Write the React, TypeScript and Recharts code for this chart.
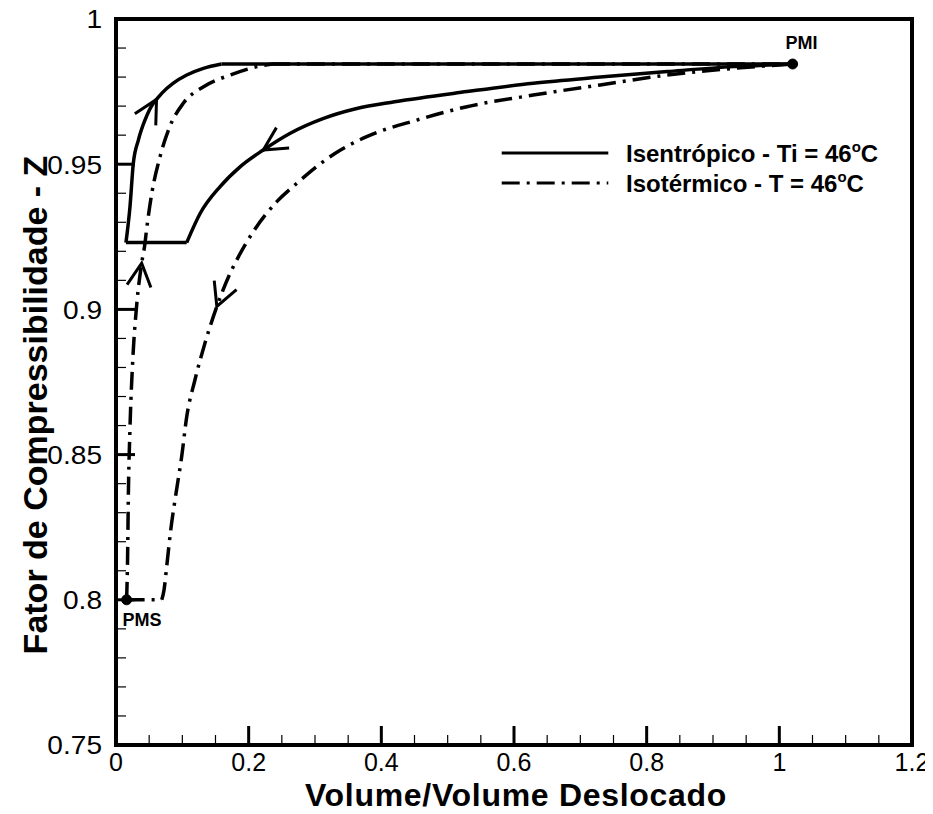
import React from 'react';
import { LineChart, Line, XAxis, YAxis, ReferenceArea, ReferenceDot, Legend } from 'recharts';

// ---- Data (x = Volume/Volume Deslocado, z = Fator de Compressibilidade) ----
// Isentrópico - Ti = 46°C
const isenLeftX = [0.015, 0.0211, 0.0261, 0.0337, 0.0437, 0.0563, 0.0611, 0.0689, 0.0864, 0.1066, 0.1317, 0.159];
const isenLeftZ = [0.923, 0.9354, 0.9503, 0.9583, 0.9652, 0.971, 0.9723, 0.9744, 0.9779, 0.9807, 0.983, 0.9845];
const isenTopX = [0.159, 1.02];
const isenTopZ = [0.9845, 0.9845];
const isenBottomX = [0.015, 0.1066];
const isenBottomZ = [0.923, 0.923];
const isenRightX = [0.1066, 0.127, 0.157, 0.187, 0.222, 0.262, 0.313, 0.363, 0.42, 0.529, 0.629, 0.73, 0.831, 0.931, 1.02];
const isenRightZ = [0.923, 0.9331, 0.9423, 0.9491, 0.9549, 0.9606, 0.9658, 0.9692, 0.9715, 0.975, 0.9779, 0.98, 0.9819, 0.9836, 0.9845];

// Isotérmico - T = 46°C
const isoLeftX = [0.016, 0.0175, 0.0186, 0.021, 0.025, 0.031, 0.0387, 0.0437, 0.046, 0.054, 0.0664, 0.081, 0.1015, 0.132, 0.172, 0.217, 0.235];
const isoLeftZ = [0.8, 0.815, 0.8355, 0.8585, 0.8814, 0.901, 0.9159, 0.9228, 0.9273, 0.94, 0.9526, 0.9629, 0.971, 0.9767, 0.9807, 0.9838, 0.9845];
const isoTopX = [0.235, 1.02];
const isoTopZ = [0.9845, 0.9845];
const isoBottomX = [0.016, 0.069];
const isoBottomZ = [0.8, 0.8];
const isoRightX = [0.069, 0.0724, 0.0764, 0.0825, 0.0905, 0.099, 0.1066, 0.119, 0.134, 0.152, 0.172, 0.1845, 0.207, 0.2424, 0.2725, 0.33, 0.378, 0.4535, 0.529, 0.629, 0.73, 0.831, 0.931, 1.02];
const isoRightZ = [0.8, 0.8034, 0.8114, 0.824, 0.8367, 0.8493, 0.863, 0.8757, 0.8883, 0.901, 0.9124, 0.9181, 0.9268, 0.9371, 0.9434, 0.9537, 0.9595, 0.9652, 0.9698, 0.9738, 0.9773, 0.9807, 0.983, 0.9845];

// Direction arrows: [branch, fromIndex, toIndex]
const arrowDefs: [string, number, number][] = [
  ['isenLeft', 4, 6],
  ['isenRight', 5, 4],
  ['isoLeft', 5, 6],
  ['isoRight', 10, 9],
];

// Marked points
const pointNames = ['PMI', 'PMS'];
const pointX = [1.02, 0.016];
const pointZ = [0.9845, 0.8];

// Axes
const xMajorTicks = [0, 0.2, 0.4, 0.6, 0.8, 1, 1.2];
const xTickLabels = ['0', '0.2', '0.4', '0.6', '0.8', '1', '1.2'];
const yMajorTicks = [0.75, 0.8, 0.85, 0.9, 0.95, 1];
const yTickLabels = ['0.75', '0.8', '0.85', '0.9', '0.95', '1'];
const xMinorStep = 0.05;
const yMinorStep = 0.01;

const seriesNames = ['Isentrópico - Ti = 46', 'Isotérmico - T = 46'];
const xTitle = 'Volume/Volume Deslocado';
const yTitle = 'Fator de Compressibilidade - Z';

const toPts = (xs: number[], zs: number[]) => xs.map((x, i) => ({ x, z: zs[i] }));

const branches: Record<string, { x: number; z: number }[]> = {
  isenLeft: toPts(isenLeftX, isenLeftZ),
  isenTop: toPts(isenTopX, isenTopZ),
  isenBottom: toPts(isenBottomX, isenBottomZ),
  isenRight: toPts(isenRightX, isenRightZ),
  isoLeft: toPts(isoLeftX, isoLeftZ),
  isoTop: toPts(isoTopX, isoTopZ),
  isoBottom: toPts(isoBottomX, isoBottomZ),
  isoRight: toPts(isoRightX, isoRightZ),
};

const buildTicks = (lo: number, hi: number, step: number) => {
  const out: number[] = [];
  const n = Math.round((hi - lo) / step);
  for (let i = 0; i <= n; i++) out.push(Math.round((lo + i * step) * 10000) / 10000);
  return out;
};
const xAllTicks = buildTicks(0, 1.2, xMinorStep);
const yAllTicks = buildTicks(0.75, 1, yMinorStep);

const FONT = 'Liberation Sans, Arial, Helvetica, sans-serif';
const DASH = '18 7 3 7';
const LW = 3.5;

const findMajor = (v: number, majors: number[]) => majors.findIndex((m) => Math.abs(m - v) < 1e-6);

const XTick = (props: any) => {
  const { x, y, payload } = props;
  const idx = findMajor(payload.value, xMajorTicks);
  const major = idx >= 0;
  return (
    <g>
      <line x1={x} x2={x} y1={y} y2={y - (major ? 19 : 10)} stroke="#000" strokeWidth={major ? 3 : 1.2} />
      {major && (
        <text x={x} y={y + 26} textAnchor="middle" fontSize={25} fontFamily={FONT} fill="#000">
          {xTickLabels[idx]}
        </text>
      )}
    </g>
  );
};

const YTick = (props: any) => {
  const { x, y, payload } = props;
  const idx = findMajor(payload.value, yMajorTicks);
  const major = idx >= 0;
  return (
    <g>
      <line x1={x} x2={x + (major ? 19 : 10)} y1={y} y2={y} stroke="#000" strokeWidth={major ? 3 : 1.2} />
      {major && (
        <text
          transform={`translate(${x - 14},${y}) scale(1.08,1)`}
          dy="0.36em"
          textAnchor="end"
          fontSize={26}
          fontFamily={FONT}
          fill="#000"
        >
          {yTickLabels[idx]}
        </text>
      )}
    </g>
  );
};

const XTitle = () => (
  <text
    x={516}
    y={806}
    textAnchor="middle"
    fontSize={32}
    letterSpacing={0.7}
    fontWeight="bold"
    fontFamily={FONT}
    fill="#000"
  >
    {xTitle}
  </text>
);

const YTitle = () => (
  <text
    transform="translate(35,405) rotate(-90)"
    textAnchor="middle"
    dy="0.36em"
    fontSize={34}
    fontWeight="bold"
    fontFamily={FONT}
    fill="#000"
  >
    {yTitle}
  </text>
);

const LegendBox = () => (
  <svg width={420} height={70} style={{ overflow: 'visible' }}>
    <line x1={13.7} x2={120.3} y1={17} y2={17} stroke="#000" strokeWidth={3} />
    <text x={138} y={25.5} fontSize={24} fontWeight="bold" fontFamily={FONT} fill="#000">
      {seriesNames[0]}
      <tspan dy={-10} fontSize={15}>o</tspan>
      <tspan dy={10}>C</tspan>
    </text>
    <line x1={13.7} x2={120.3} y1={47} y2={47} stroke="#000" strokeWidth={3} strokeDasharray={DASH} />
    <text x={138} y={55.5} fontSize={24} fontWeight="bold" fontFamily={FONT} fill="#000">
      {seriesNames[1]}
      <tspan dy={-10} fontSize={15}>o</tspan>
      <tspan dy={10}>C</tspan>
    </text>
  </svg>
);

const pointLabel = (name: string) => (p: any) => {
  const vb = p.viewBox || {};
  const cx = (vb.x || 0) + (vb.width || 0) / 2;
  const cy = (vb.y || 0) + (vb.height || 0) / 2;
  const isTop = name === 'PMI';
  return (
    <text
      x={cx - (isTop ? 7 : 4)}
      y={cy + (isTop ? -15 : 26)}
      fontSize={18}
      fontWeight="bold"
      fontFamily={FONT}
      fill="#000"
    >
      {name}
    </text>
  );
};

const lineProps = {
  dataKey: 'z',
  stroke: '#000',
  strokeWidth: LW,
  dot: false,
  activeDot: false,
  isAnimationActive: false,
  legendType: 'none' as const,
};

export default function App() {
  const solidKeys = ['isenTop', 'isenLeft', 'isenBottom', 'isenRight'];
  const dashKeys = ['isoTop', 'isoLeft', 'isoBottom', 'isoRight'];
  return (
    <div style={{ position: 'relative', width: 933, height: 814, margin: '-8px 0 0 -8px' }}>
      <svg width={0} height={0} style={{ position: 'absolute' }}>
        <defs>
          <marker
            id="arrowHead"
            markerUnits="userSpaceOnUse"
            markerWidth={40}
            markerHeight={40}
            viewBox="-30 -20 40 40"
            refX={0}
            refY={0}
            orient="auto"
            style={{ overflow: 'visible' }}
          >
            <path d="M-23,-12 L0,0 L-23,12" fill="none" stroke="#000" strokeWidth={3} strokeLinejoin="miter" />
          </marker>
        </defs>
      </svg>
      <LineChart width={933} height={814} margin={{ top: 19, right: 21, bottom: 8, left: 8 }}>
        <XAxis
          type="number"
          dataKey="x"
          domain={[0, 1.2]}
          ticks={xAllTicks}
          interval={0}
          height={61}
          tickSize={0}
          tickMargin={0}
          axisLine={false}
          tickLine={false}
          tick={(p: any) => <XTick {...p} />}
          allowDataOverflow
          label={{ content: () => <XTitle /> }}
        />
        <YAxis
          type="number"
          dataKey="z"
          domain={[0.75, 1]}
          ticks={yAllTicks}
          interval={0}
          width={108}
          tickSize={0}
          tickMargin={0}
          axisLine={false}
          tickLine={false}
          tick={(p: any) => <YTick {...p} />}
          allowDataOverflow
          label={{ content: () => <YTitle /> }}
        />
        <ReferenceArea x1={0} x2={1.2} y1={0.75} y2={1} fill="none" stroke="#000" strokeWidth={4} ifOverflow="visible" />
        {solidKeys.map((k) => (
          <Line key={k} {...lineProps} data={branches[k]} type={k.endsWith('Top') || k.endsWith('Bottom') ? 'linear' : 'monotoneX'} />
        ))}
        {dashKeys.map((k) => (
          <Line
            key={k}
            {...lineProps}
            data={branches[k]}
            strokeDasharray={DASH}
            type={k.endsWith('Top') || k.endsWith('Bottom') ? 'linear' : 'monotoneX'}
          />
        ))}
        {arrowDefs.map(([b, from, to], i) => (
          <Line
            key={'arrow' + i}
            {...lineProps}
            type="linear"
            stroke="none"
            data={[branches[b][from], branches[b][to]]}
            markerEnd="url(#arrowHead)"
          />
        ))}
        {pointNames.map((n, i) => (
          <ReferenceDot key={n} x={pointX[i]} y={pointZ[i]} r={5} fill="#000" stroke="#000" label={{ content: pointLabel(n) }} />
        ))}
        <Legend
          layout="vertical"
          align="center"
          verticalAlign="middle"
          content={() => <LegendBox />}
          wrapperStyle={{ position: 'absolute', left: 488, top: 136, width: 420, height: 70 }}
        />
      </LineChart>
    </div>
  );
}
